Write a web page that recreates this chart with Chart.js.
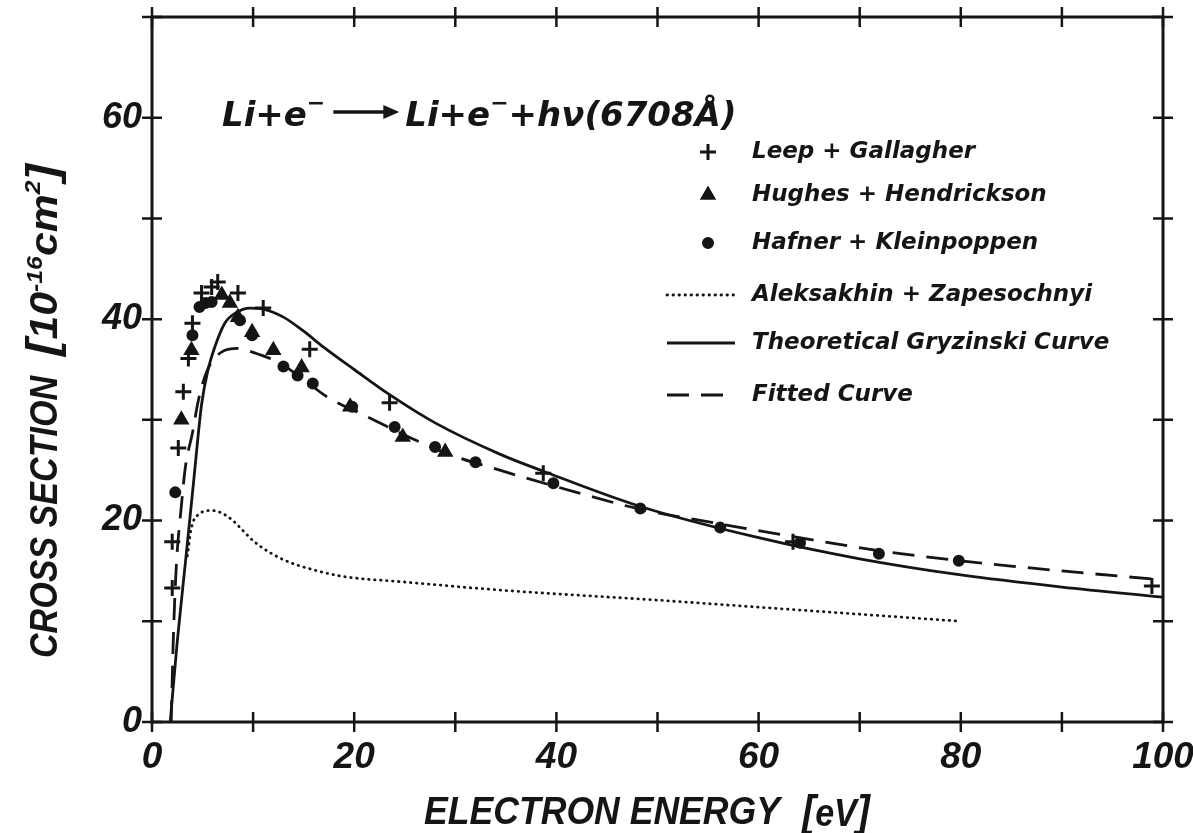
<!DOCTYPE html>
<html>
<head>
<meta charset="utf-8">
<script src="https://cdn.jsdelivr.net/npm/chart.js@4.4.1/dist/chart.umd.min.js"></script>
<style>
  html, body { margin: 0; background: #fff; }
  canvas { display: block; }
</style>
</head>
<body>
<canvas id="xsec" width="1193" height="833"></canvas>
<script>
// electron energy in eV, cross section in 10^-16 cm^2
const gryzEnergy = [1.8, 2.5, 3.3, 4.1, 4.9, 5.5, 6.2, 7.2, 8.4, 9.7, 11, 13, 15, 17, 20, 23.5, 28, 34.4, 38.7, 48.3, 60, 70, 80, 90, 100];
const gryzSigma  = [0, 8.0, 15.8, 23.7, 31.5, 34.8, 37.2, 39.6, 40.7, 41.1, 41.0, 40.2, 38.8, 37.2, 35.0, 32.5, 29.7, 26.6, 24.9, 21.4, 18.3, 16.2, 14.6, 13.4, 12.4];

const fitEnergy = [1.9, 2.1, 2.4, 2.9, 3.3, 4.0, 4.6, 5.5, 7.0, 8.5, 10, 12.7, 14.6, 17.3, 21.3, 28.8, 34.4, 42, 48, 56, 64, 72, 80, 90, 100];
const fitSigma  = [0, 8.0, 15.4, 21.4, 25.3, 28.7, 32.0, 35.0, 36.8, 37.1, 36.7, 35.6, 34.3, 32.3, 30.3, 26.8, 25.0, 22.8, 21.2, 19.7, 18.3, 17.0, 16.0, 15.0, 14.1];

const aleksEnergy = [3.5, 3.9, 4.6, 5.9, 7.0, 8.0, 9.0, 10, 11.7, 13.5, 15.3, 18.6, 25, 34.4, 50, 60, 70, 80];
const aleksSigma  = [16.5, 19.3, 20.6, 21.0, 20.7, 20.0, 19.0, 18.0, 16.8, 15.9, 15.3, 14.5, 13.9, 13.1, 12.1, 11.4, 10.7, 10.0];

const leepEnergy = [2.0, 2.0, 2.6, 3.1, 3.6, 4.0, 4.9, 5.9, 6.5, 8.5, 11, 15.6, 23.5, 38.7, 63.4, 98.9];
const leepSigma  = [13.3, 17.9, 27.2, 32.8, 36.1, 39.6, 42.6, 43.2, 43.7, 42.6, 41.1, 37.0, 31.7, 24.7, 17.9, 13.5];

const hughesEnergy = [2.9, 3.9, 6.9, 7.7, 8.5, 9.9, 12.0, 14.8, 19.6, 24.8, 29.0];
const hughesSigma  = [30.0, 36.9, 42.4, 41.6, 40.2, 38.7, 36.9, 35.2, 31.3, 28.3, 26.8];

const hafnerEnergy = [2.3, 4.0, 4.7, 5.3, 5.9, 8.7, 9.9, 13.0, 14.4, 15.9, 19.8, 24.0, 28.0, 32.0, 39.7, 48.3, 56.2, 64.1, 71.9, 79.8];
const hafnerSigma  = [22.8, 38.4, 41.2, 41.6, 41.7, 39.9, 38.4, 35.3, 34.4, 33.6, 31.3, 29.3, 27.3, 25.8, 23.7, 21.2, 19.3, 17.8, 16.7, 16.0];

const xLabelStep = 20;
const yLabelStep = 20;
const yLabelMax = 60;

const INK = '#151515';
const SANS = "'Liberation Sans', Arial, sans-serif";
const ROUND = "'DejaVu Sans', 'Liberation Sans', sans-serif";

function pts(xs, ys) {
  return xs.map((x, i) => ({ x: x, y: ys[i] }));
}

// box around the plot with ticks crossing every axis line
const framePlugin = {
  id: 'frame',
  afterDatasetsDraw(chart) {
    const { ctx, chartArea: a, scales } = chart;
    ctx.save();
    ctx.strokeStyle = INK;
    ctx.lineWidth = 3;
    ctx.strokeRect(a.left, a.top, a.right - a.left, a.bottom - a.top);
    ctx.lineWidth = 2.5;
    const t = 10;
    ctx.beginPath();
    scales.x.ticks.forEach(tk => {
      const x = scales.x.getPixelForValue(tk.value);
      ctx.moveTo(x, a.bottom - t); ctx.lineTo(x, a.bottom + t);
      ctx.moveTo(x, a.top - t); ctx.lineTo(x, a.top + t);
    });
    scales.y.ticks.forEach(tk => {
      const y = scales.y.getPixelForValue(tk.value);
      ctx.moveTo(a.left - t, y); ctx.lineTo(a.left + t, y);
      ctx.moveTo(a.right - t, y); ctx.lineTo(a.right + t, y);
    });
    ctx.stroke();
    ctx.restore();
  }
};

// text run with raised pieces: [text, font, rise]; returns run width
function drawRun(ctx, x, y, parts, dry) {
  const x0 = x;
  parts.forEach(p => {
    ctx.font = p[1];
    if (!dry) ctx.fillText(p[0], x, y - (p[2] || 0));
    x += ctx.measureText(p[0]).width;
  });
  return x - x0;
}

// lettering squeezed sideways to span a given width
function squeezed(ctx, x, y, width, parts) {
  const w = drawRun(ctx, 0, 0, parts, true);
  ctx.save();
  ctx.translate(x, y);
  ctx.scale(width / w, 1);
  drawRun(ctx, 0, 0, parts);
  ctx.restore();
}

const textPlugin = {
  id: 'texts',
  afterDraw(chart) {
    const ctx = chart.ctx;
    ctx.save();
    ctx.fillStyle = INK;
    ctx.textAlign = 'left';
    ctx.textBaseline = 'alphabetic';

    const axisFont = 'italic bold 38px ' + SANS;
    const bracketFont = 'italic bold 44px ' + SANS;
    const smallFont = 'italic bold 22px ' + SANS;

    // x axis title
    squeezed(ctx, 424, 824, 356, [['ELECTRON ENERGY', axisFont]]);
    squeezed(ctx, 802, 826, 68, [['[', bracketFont], ['eV', axisFont], [']', bracketFont]]);

    // y axis title, rotated
    ctx.save();
    ctx.translate(57, 658);
    ctx.rotate(-Math.PI / 2);
    squeezed(ctx, 0, 0, 282, [['CROSS SECTION', axisFont]]);
    squeezed(ctx, 302, 0, 192, [
      ['[', bracketFont],
      ['10', axisFont],
      ['-16', smallFont, 15],
      ['cm', axisFont],
      ['2', smallFont, 17],
      [']', bracketFont]
    ]);
    ctx.restore();

    // reaction equation
    const eqFont = 'italic bold 34px ' + ROUND;
    const supFont = 'bold 22px ' + ROUND;
    const w1 = drawRun(ctx, 222, 126, [['Li+e', eqFont], ['\u2212', supFont, 16]]);
    const ax0 = 222 + w1 + 8, ax1 = ax0 + 66, ay = 112;
    ctx.strokeStyle = INK;
    ctx.lineWidth = 3.5;
    ctx.beginPath(); ctx.moveTo(ax0, ay); ctx.lineTo(ax1 - 10, ay); ctx.stroke();
    ctx.beginPath(); ctx.moveTo(ax1, ay); ctx.lineTo(ax1 - 16, ay - 7); ctx.lineTo(ax1 - 16, ay + 7); ctx.closePath(); ctx.fill();
    drawRun(ctx, ax1 + 6, 126, [['Li+e', eqFont], ['\u2212', supFont, 16], ['+h\u03bd(6708\u00c5)', eqFont]]);

    // legend
    const legFont = 'italic bold 23px ' + ROUND;
    const rows = [152, 195, 243, 295, 343, 395];
    chart.data.datasets.forEach((ds, i) => {
      const y = rows[i];
      ctx.save();
      ctx.strokeStyle = INK;
      ctx.fillStyle = INK;
      ctx.lineWidth = ds.borderWidth;
      if (ds.showLine) {
        ctx.lineCap = ds.borderCapStyle || 'butt';
        ctx.setLineDash(ds.borderDash || []);
        ctx.beginPath(); ctx.moveTo(667, y); ctx.lineTo(735, y); ctx.stroke();
      } else {
        Chart.helpers.drawPoint(ctx, { pointStyle: ds.pointStyle, radius: ds.pointRadius, borderWidth: ds.borderWidth, rotation: 0 }, 708, y);
      }
      ctx.restore();
      ctx.font = legFont;
      ctx.textBaseline = 'middle';
      ctx.fillText(ds.label, 752, y);
    });
    ctx.restore();
  }
};

const pointSet = (label, xs, ys, style, r) => ({
  label: label,
  data: pts(xs, ys),
  showLine: false,
  pointStyle: style,
  pointRadius: r,
  pointHoverRadius: r,
  borderWidth: 3,
  borderColor: INK,
  backgroundColor: INK
});

const curveSet = (label, xs, ys, dash, cap) => ({
  label: label,
  data: pts(xs, ys),
  showLine: true,
  pointRadius: 0,
  borderWidth: 2.8,
  borderColor: INK,
  borderDash: dash,
  borderCapStyle: cap,
  cubicInterpolationMode: 'monotone',
  fill: false
});

new Chart(document.getElementById('xsec'), {
  type: 'scatter',
  data: {
    datasets: [
      pointSet('Leep + Gallagher', leepEnergy, leepSigma, 'cross', 8),
      pointSet('Hughes + Hendrickson', hughesEnergy, hughesSigma, 'triangle', 6.5),
      pointSet('Hafner + Kleinpoppen', hafnerEnergy, hafnerSigma, 'circle', 4.5),
      curveSet('Aleksakhin + Zapesochnyi', aleksEnergy, aleksSigma, [0.5, 5.5], 'round'),
      curveSet('Theoretical Gryzinski Curve', gryzEnergy, gryzSigma, [], 'butt'),
      curveSet('Fitted Curve', fitEnergy, fitSigma, [22, 12], 'butt')
    ]
  },
  options: {
    responsive: false,
    animation: false,
    devicePixelRatio: 1,
    layout: { padding: { top: 17, right: 30, left: 0, bottom: 0 } },
    plugins: {
      legend: { display: false },
      tooltip: { enabled: false }
    },
    scales: {
      x: {
        type: 'linear',
        min: 0,
        max: 100,
        grid: { display: false, drawTicks: false },
        border: { display: false },
        ticks: {
          stepSize: 10,
          padding: 14,
          maxRotation: 0,
          autoSkip: false,
          color: INK,
          font: { family: SANS, size: 37, style: 'italic', weight: 'bold' },
          callback: v => (v % xLabelStep === 0 ? String(v) : '')
        },
        afterFit: s => { s.height = 111; s.paddingLeft = 0; s.paddingRight = 0; }
      },
      y: {
        type: 'linear',
        min: 0,
        max: 70,
        grid: { display: false, drawTicks: false },
        border: { display: false },
        ticks: {
          stepSize: 10,
          padding: 10,
          autoSkip: false,
          color: INK,
          font: { family: SANS, size: 36, style: 'italic', weight: 'bold' },
          callback: v => (v % yLabelStep === 0 && v <= yLabelMax ? String(v) : '')
        },
        afterFit: s => { s.width = 152; s.paddingTop = 0; s.paddingBottom = 0; }
      }
    }
  },
  plugins: [framePlugin, textPlugin]
});
</script>
</body>
</html>
